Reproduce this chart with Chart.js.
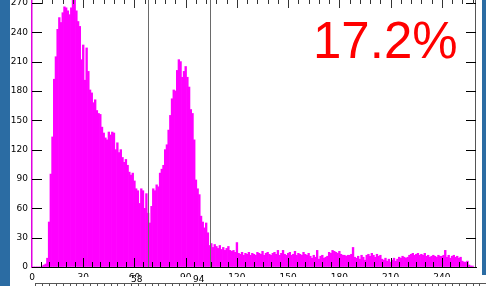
<!DOCTYPE html>
<html><head><meta charset="utf-8">
<style>html,body{margin:0;padding:0;background:#fff;overflow:hidden}#wrap{position:relative;width:486px;height:286px}</style>
<script src="https://cdn.jsdelivr.net/npm/chart.js@4/dist/chart.umd.min.js"></script>
</head><body><div id="wrap"><canvas id="c" width="486" height="286"></canvas></div>
<script>
// histogram counts, one value per bin (bin index = position in array)
const counts = [
  0, 0, 0, 0, 0, 0, 1, 2, 3, 9,
  46, 95, 133, 192, 215, 243, 255, 250, 260, 266,
  265, 262, 258, 265, 273, 275, 262, 251, 246, 212,
  227, 191, 224, 200, 181, 178, 168, 171, 160, 157,
  156, 143, 137, 132, 130, 138, 135, 138, 137, 120,
  127, 117, 120, 112, 107, 110, 104, 97, 94, 96,
  88, 80, 78, 65, 80, 78, 60, 75, 55, 45,
  62, 80, 78, 84, 82, 96, 100, 104, 120, 125,
  140, 155, 172, 181, 180, 201, 212, 210, 194, 200,
  205, 194, 184, 161, 157, 130, 89, 80, 74, 52,
  46, 40, 45, 35, 22, 24, 20, 23, 21, 19,
  22, 18, 20, 17, 19, 21, 17, 16, 17, 15,
  25, 14, 13, 15, 12, 14, 13, 15, 12, 14,
  13, 12, 15, 14, 13, 16, 12, 14, 15, 13,
  12, 14, 15, 13, 17, 12, 14, 17, 13, 12,
  14, 15, 12, 13, 16, 12, 14, 13, 12, 15,
  13, 12, 14, 11, 9, 12, 10, 17, 8, 11,
  12, 9, 10, 11, 15, 14, 17, 16, 15, 14,
  16, 13, 12, 12, 11, 12, 12, 13, 20, 10,
  9, 11, 8, 12, 10, 7, 12, 13, 11, 14,
  12, 10, 13, 11, 12, 8, 7, 9, 6, 8,
  5, 7, 9, 6, 8, 10, 9, 11, 10, 9,
  10, 12, 13, 14, 12, 13, 14, 12, 13, 12,
  14, 11, 12, 10, 11, 12, 11, 10, 12, 11,
  11, 12, 17, 10, 12, 9, 11, 12, 10, 11,
  9, 10, 6, 5, 5, 6, 2, 1, 1
];
const bins = counts.map((_, i) => i);
const xRange = [0, 260];
const yRange = [0, 273];
const tickStep = 30;
const markerLines = [68, 104];
const markerLabels = ['58', '94'];
const markerLabelValues = [58, 94];
const percentLabel = '17.2%';

const FONT = "'DejaVu Sans', sans-serif";

const decor = {
  id: 'decor',
  afterDatasetsDraw(chart) {
    const {ctx, chartArea: a, scales: {x, y}} = chart;
    ctx.save();
    // marker lines
    ctx.strokeStyle = '#6a6a6a'; ctx.lineWidth = 1;
    markerLines.forEach(v => {
      const px = Math.round(x.getPixelForValue(v)) + 0.5;
      ctx.beginPath(); ctx.moveTo(px, a.top); ctx.lineTo(px, a.bottom); ctx.stroke();
    });
    // right border
    ctx.strokeStyle = '#555';
    ctx.beginPath(); ctx.moveTo(a.right - 0.5, a.top); ctx.lineTo(a.right - 0.5, a.bottom); ctx.stroke();
    // left / right inward ticks
    ctx.strokeStyle = '#000';
    for (let v = yRange[0]; v <= 270; v += tickStep) {
      const py = Math.round(y.getPixelForValue(v)) + 0.5;
      ctx.beginPath(); ctx.moveTo(a.left, py); ctx.lineTo(a.left + 10, py); ctx.stroke();
      ctx.beginPath(); ctx.moveTo(a.right, py); ctx.lineTo(a.right - 10, py); ctx.stroke();
    }
    // bottom ticks (up) every 5, top ticks (down) every 6
    for (let v = 5; v < xRange[1]; v += 5) {
      const px = Math.round(x.getPixelForValue(v)) + 0.5;
      const len = v % 30 === 0 ? 9 : 5;
      ctx.beginPath(); ctx.moveTo(px, a.bottom); ctx.lineTo(px, a.bottom - len); ctx.stroke();
    }
    ctx.strokeStyle = '#333';
    for (let v = 6; v < xRange[1]; v += 6) {
      const px = Math.round(x.getPixelForValue(v)) + 0.5;
      const len = v % 30 === 0 ? 8 : 4;
      ctx.beginPath(); ctx.moveTo(px, a.top); ctx.lineTo(px, a.top + len); ctx.stroke();
    }
    // percentage label
    ctx.fillStyle = '#ff0000';
    ctx.font = "51px 'Liberation Sans', Arial, sans-serif";
    ctx.textAlign = 'left'; ctx.textBaseline = 'alphabetic';
    ctx.fillText(percentLabel, 313, 58);
    ctx.restore();
  },
  afterDraw(chart) {
    const {ctx, scales: {x}} = chart;
    ctx.save();
    // lower ruler panel
    ctx.fillStyle = '#fff';
    ctx.fillRect(35, 277, 451, 9);
    ctx.strokeStyle = '#555'; ctx.lineWidth = 1;
    ctx.beginPath(); ctx.moveTo(35, 283.5); ctx.lineTo(486, 283.5); ctx.stroke();
    for (let v = 2; v < 266; v += 4) {
      const px = Math.round(x.getPixelForValue(v)) + 0.5;
      ctx.beginPath(); ctx.moveTo(px, 283.5); ctx.lineTo(px, 286); ctx.stroke();
    }
    ctx.fillStyle = '#000';
    ctx.font = "9px " + FONT;
    ctx.textAlign = 'left'; ctx.textBaseline = 'bottom';
    markerLabels.forEach((t, i) => {
      ctx.fillText(t, Math.round(x.getPixelForValue(markerLabelValues[i])), 284);
    });
    // blue side strips
    ctx.fillStyle = '#2b6ca3';
    ctx.fillRect(0, 0, 10, 286);
    ctx.fillRect(482, 0, 4, 275);
    ctx.restore();
  }
};

new Chart(document.getElementById('c'), {
  type: 'bar',
  data: {
    datasets: [{
      data: bins.map((b, i) => ({x: b, y: counts[i]})),
      backgroundColor: '#ff00ff',
      borderWidth: 0,
      barPercentage: 1,
      categoryPercentage: 1,
      clip: 0
    }]
  },
  options: {
    responsive: false,
    animation: false,
    devicePixelRatio: 1,
    layout: {padding: {left: 0, right: 10, top: 0, bottom: 0}},
    plugins: {legend: {display: false}, tooltip: {enabled: false}},
    scales: {
      x: {
        type: 'linear', min: xRange[0], max: xRange[1], offset: false,
        grid: {drawOnChartArea: false, drawTicks: false, offset: false},
        border: {color: '#000', width: 1},
        ticks: {stepSize: tickStep, includeBounds: false, padding: 5, maxRotation: 0, autoSkip: false,
          color: '#000', font: {family: FONT, size: 9}},
        afterFit(s) { s.height = 19; s.paddingLeft = 0; s.paddingRight = 0; }
      },
      y: {
        min: yRange[0], max: yRange[1],
        grid: {drawOnChartArea: false, drawTicks: false},
        border: {color: '#e000e0', width: 1.5},
        ticks: {stepSize: tickStep, includeBounds: false, padding: 4,
          color: '#000', font: {family: FONT, size: 9}},
        afterFit(s) { s.width = 32; s.paddingTop = 0; s.paddingBottom = 0; }
      }
    }
  },
  plugins: [decor]
});
</script>
</body></html>
